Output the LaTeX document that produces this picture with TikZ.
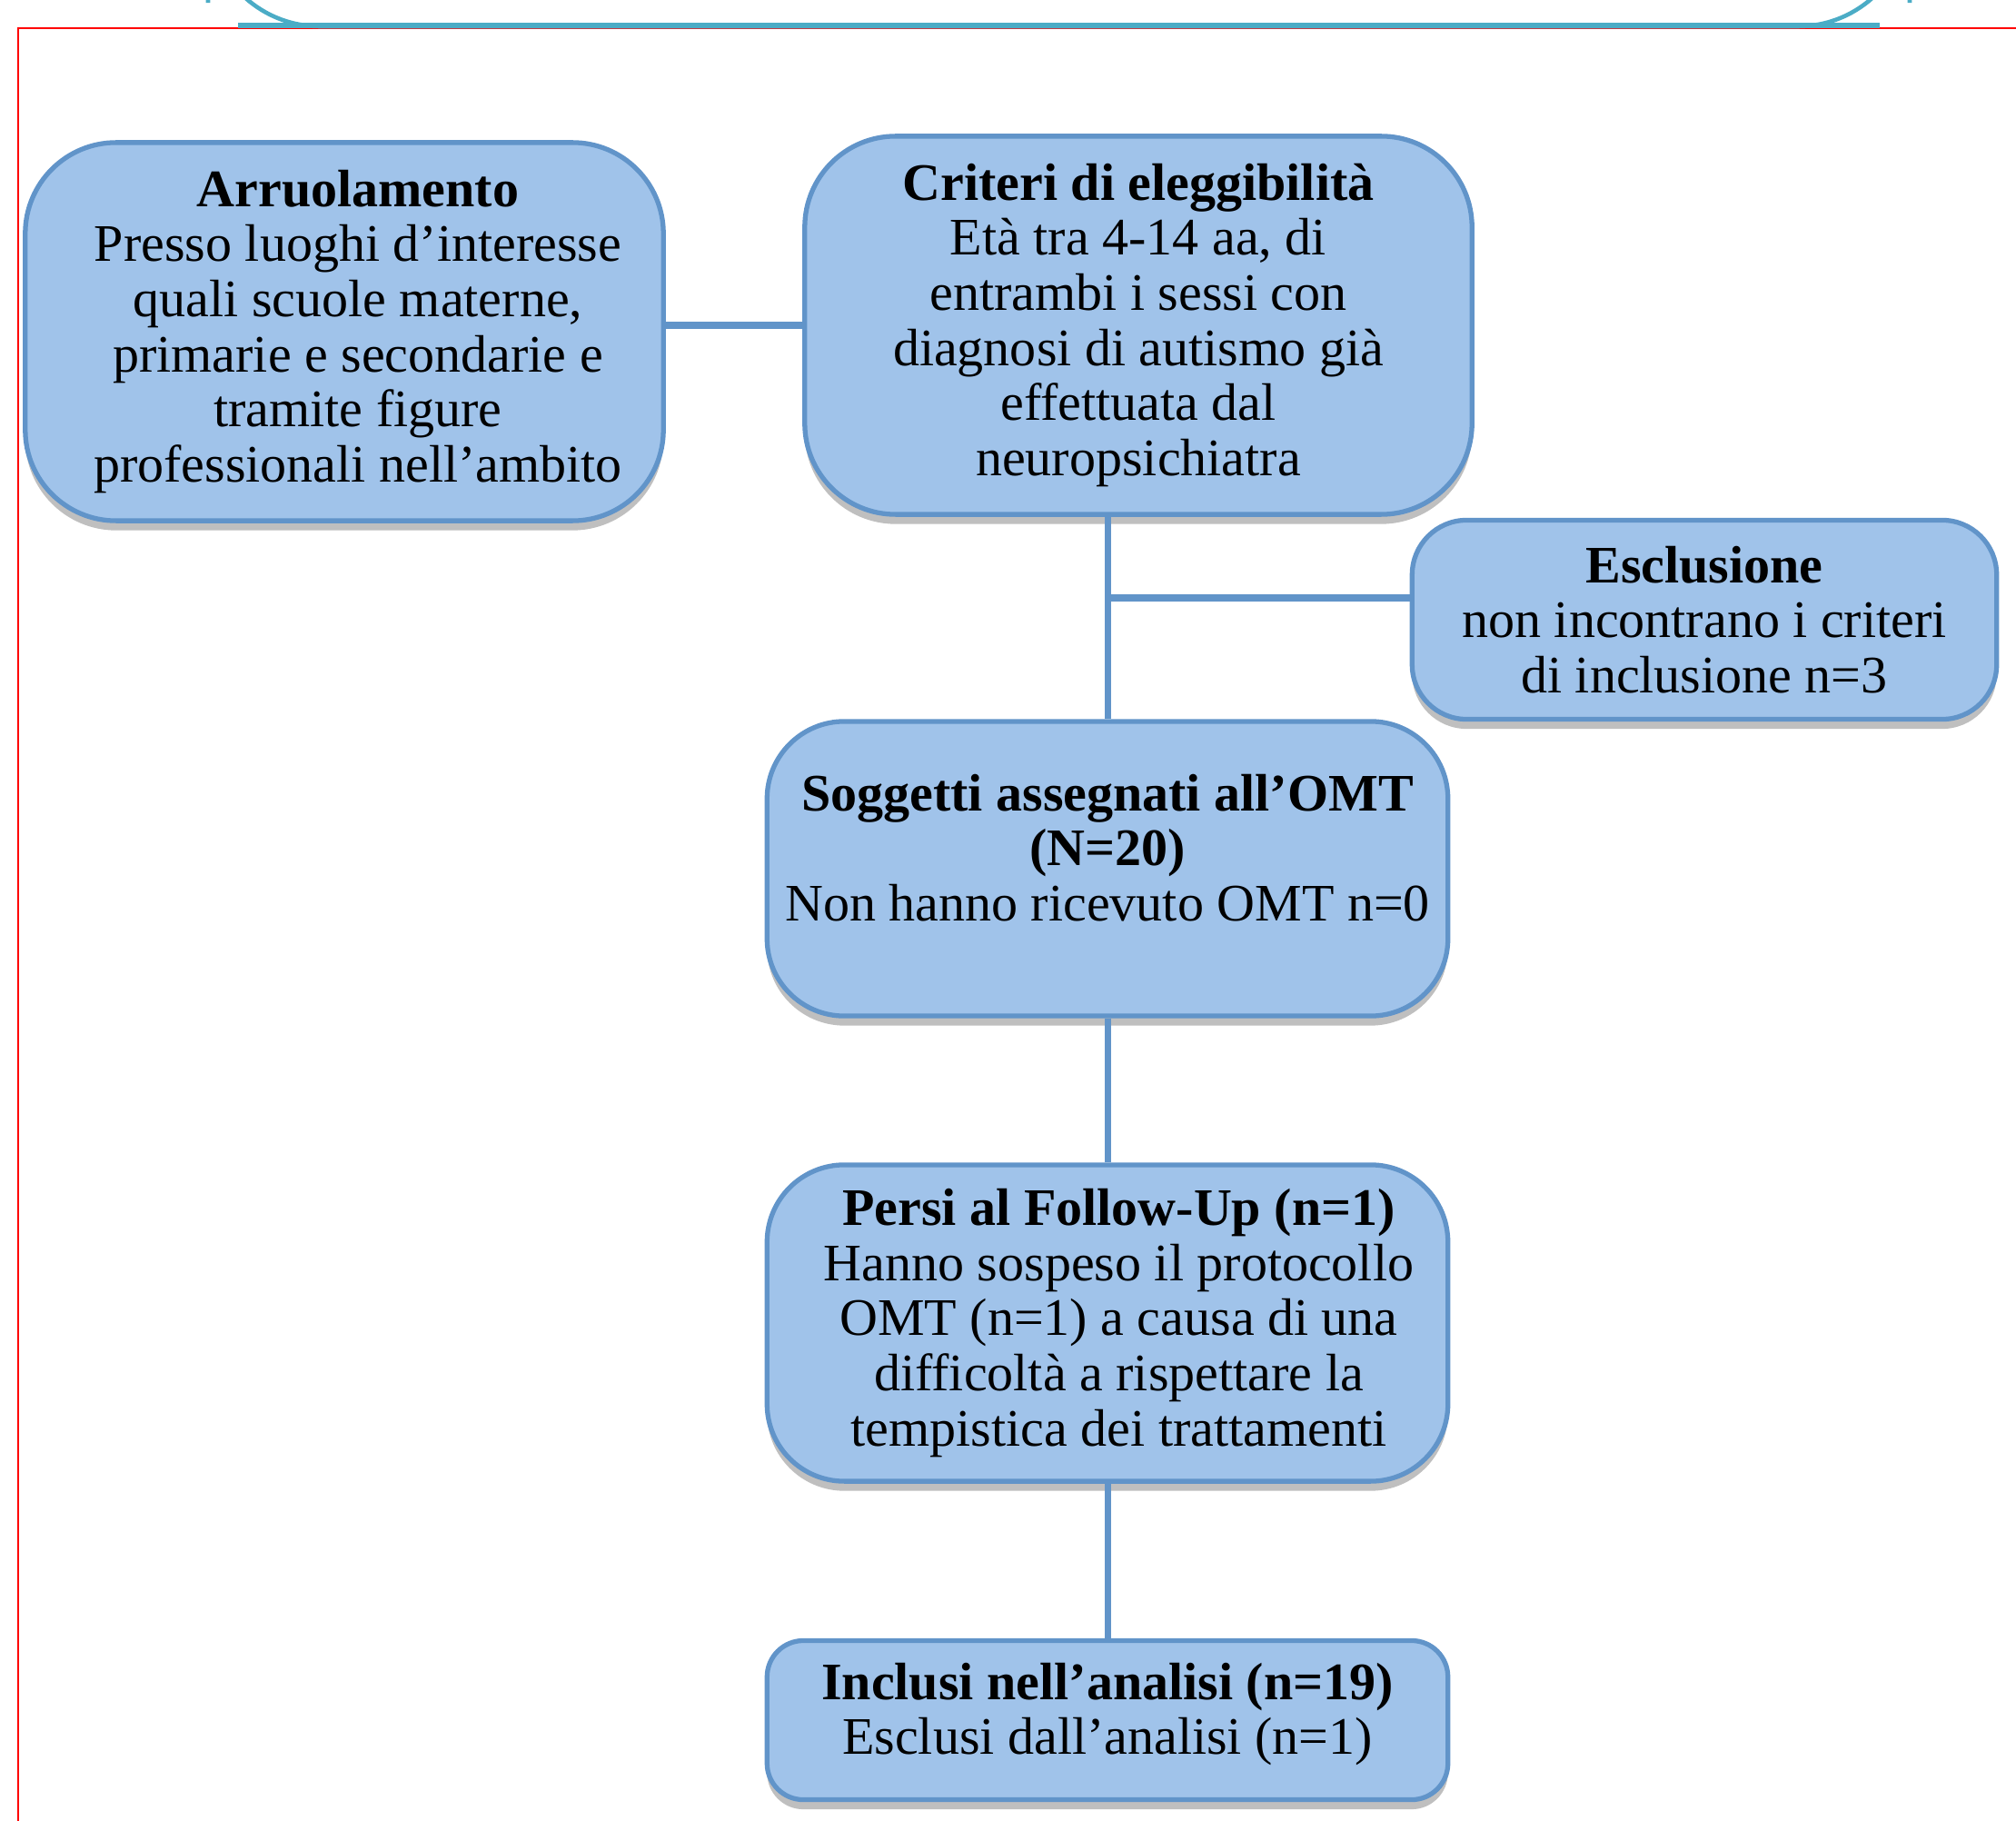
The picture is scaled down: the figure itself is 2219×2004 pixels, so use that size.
\documentclass[tikz,border=0pt]{standalone}
\usepackage{fontspec}
\setmainfont{Liberation Serif}
\usetikzlibrary{shadows,calc}

\definecolor{boxfill}{HTML}{A0C3EA}
\definecolor{boxline}{HTML}{6194C9}
\definecolor{titleline}{HTML}{4BACC6}

\tikzstyle{box}=[draw=boxline,fill=boxfill,line width=1.5pt,align=center,inner sep=0pt,
	font=\fontsize{16.5}{17.25}\selectfont,
	drop shadow={shadow xshift=0pt,shadow yshift=-3pt,opacity=0.25,fill=black}]
\tikzstyle{conn}=[draw=boxline,line width=2pt]

\begin{document}
\begin{tikzpicture}[x=0.01cm,y=-0.01cm]
	\useasboundingbox (0,0) rectangle (2219,2004);
	
	% cornice e titolo
	\draw[red,line width=0.8pt] (2219,31) -- (20,31) -- (20,2004);
	\draw[titleline,line width=1.3pt,fill=white,rounded corners=35] (229,-120) rectangle (2102,29);
	\draw[titleline,line width=1.6pt] (262,28) -- (2069,28);
	\node[anchor=base,text=red,font=\fontsize{31}{33}\bfseries] (titolo) at (1160,-1) {Schema dello studio};
	
	\node[box,minimum width=7.02cm,minimum height=4.16cm,rounded corners=1cm] (arr) at (379,365)
		{\hspace{0.3cm}\textbf{Arruolamento}\\\hspace{0.3cm}Presso luoghi d’interesse\\\hspace{0.3cm}quali scuole materne,\\\hspace{0.3cm}primarie e secondarie e\\\hspace{0.3cm}tramite figure\\\hspace{0.3cm}professionali nell’ambito};
	
	\node[box,minimum width=7.34cm,minimum height=4.16cm,rounded corners=1cm] (crit) at (1253,358)
		{\textbf{Criteri di eleggibilità}\\Età tra 4-14 aa, di\\entrambi i sessi con\\diagnosi di autismo già\\effettuata dal\\neuropsichiatra};
	
	\node[box,minimum width=6.43cm,minimum height=2.19cm,rounded corners=0.6cm] (excl) at (1876,682)
		{\textbf{Esclusione}\\non incontrano i criteri\\di inclusione n=3};
	
	\node[box,minimum width=7.49cm,minimum height=3.24cm,rounded corners=0.85cm] (sog) at (1219,956)
		{\textbf{Soggetti assegnati all’OMT}\\\textbf{(N=20)}\\Non hanno ricevuto OMT n=0\\[-4pt]\mbox{}};
	
	\node[box,minimum width=7.49cm,minimum height=3.48cm,rounded corners=0.85cm] (persi) at (1219,1456)
		{\hspace{0.25cm}\textbf{Persi al Follow-Up (n=1)}\\\hspace{0.25cm}Hanno sospeso il protocollo\\\hspace{0.25cm}OMT (n=1) a causa di una\\\hspace{0.25cm}difficoltà a rispettare la\\\hspace{0.25cm}tempistica dei trattamenti};
	
	\node[box,minimum width=7.49cm,minimum height=1.75cm,rounded corners=0.4cm] (incl) at (1219,1893)
		{\textbf{Inclusi nell’analisi (n=19)}\\Esclusi dall’analisi (n=1)\\[-10pt]\mbox{}};
	
	\draw[conn] (arr.east |- crit.west) -- (crit.west);
	\draw[conn] (sog.north |- crit.south) -- (sog.north);
	\coordinate (bivio) at ($(excl.west)+(0,-24)$);
	\draw[conn] (sog.north |- bivio) -- (bivio);
	\draw[conn] (sog.south) -- (persi.north);
	\draw[conn] (persi.south) -- (incl.north);
\end{tikzpicture}
\end{document}
